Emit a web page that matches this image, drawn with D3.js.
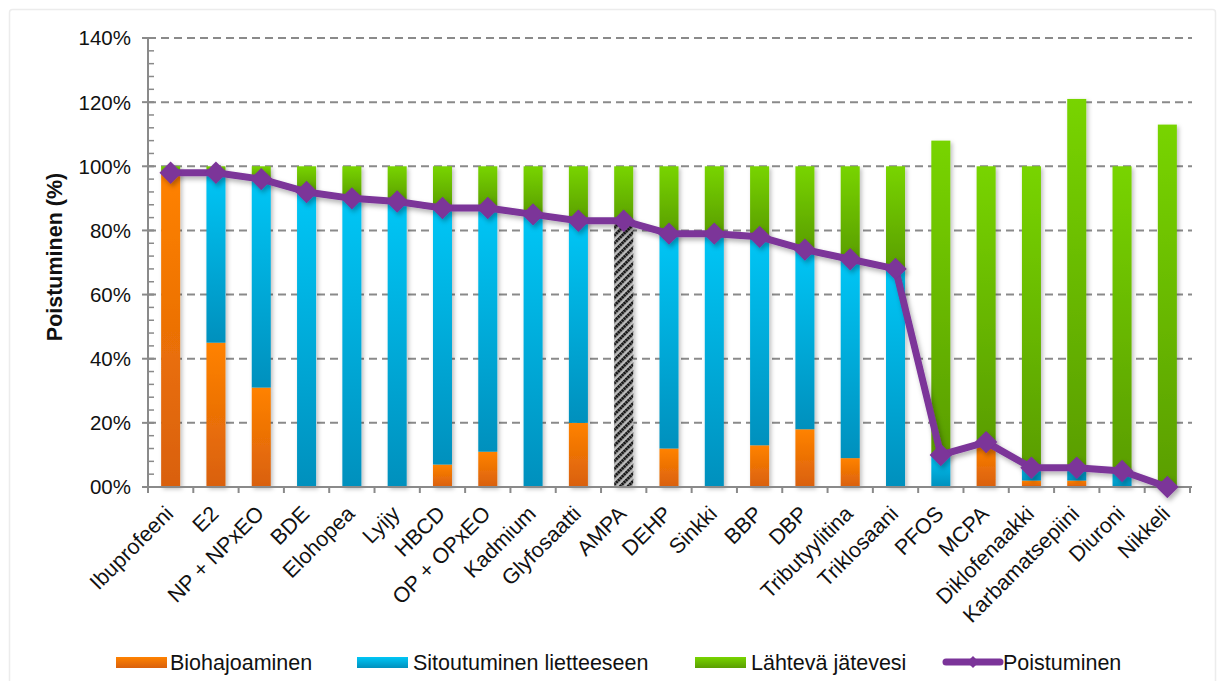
<!DOCTYPE html>
<html>
<head>
<meta charset="utf-8">
<script src="https://cdn.jsdelivr.net/npm/d3@7"></script>
<style>
  body { margin: 0; background: #fff; }
  text { font-family: "Liberation Sans", Arial, sans-serif; fill: #111; }
</style>
</head>
<body>
<svg id="chart" width="1222" height="681"></svg>
<script>
// Substances along the x axis
const categories = ["Ibuprofeeni", "E2", "NP + NPxEO", "BDE", "Elohopea", "Lyijy", "HBCD",
  "OP + OPxEO", "Kadmium", "Glyfosaatti", "AMPA", "DEHP", "Sinkki", "BBP", "DBP",
  "Tributyylitina", "Triklosaani", "PFOS", "MCPA", "Diklofenaakki", "Karbamatsepiini",
  "Diuroni", "Nikkeli"];

// Stacked shares (%)
const biohajoaminen    = [98, 45, 31, 0, 0, 0, 7, 11, 0, 20, 0, 12, 0, 13, 18, 9, 0, 0, 14, 2, 2, 0, 0];
const sitoutuminen     = [0, 53, 65, 92, 90, 89, 80, 76, 85, 63, 0, 67, 79, 65, 56, 62, 68, 10, 0, 4, 4, 5, 0];
const erittelematon    = [0, 0, 0, 0, 0, 0, 0, 0, 0, 0, 82, 0, 0, 0, 0, 0, 0, 0, 0, 0, 0, 0, 0];
const lahtevaJatevesi  = [2, 2, 4, 8, 10, 11, 13, 13, 15, 17, 18, 21, 21, 22, 26, 29, 32, 98, 86, 94, 115, 95, 113];

// Total removal (%)
const poistuminen = [98, 98, 96, 92, 90, 89, 87, 87, 85, 83, 83, 79, 79, 78, 74, 71, 68, 10, 14, 6, 6, 5, 0];

// Axis ticks
const yTicks = [0, 20, 40, 60, 80, 100, 120, 140];
const yTickLabels = ["00%", "20%", "40%", "60%", "80%", "100%", "120%", "140%"];

const seriesNames = ["Biohajoaminen", "Sitoutuminen lietteeseen", "Lähtevä jätevesi", "Poistuminen"];

const svg = d3.select("#chart");
const M = { left: 148, right: 1190, top: 38, bottom: 487 };

// faint outer frame
svg.append("rect").attr("x", 9.5).attr("y", 9.5).attr("width", 1206).attr("height", 720)
  .attr("fill", "none").attr("stroke", "#ececec").attr("stroke-width", 1.5).attr("rx", 3);

const defs = svg.append("defs");
function grad(id, top, bottom) {
  const g = defs.append("linearGradient").attr("id", id)
    .attr("x1", 0).attr("y1", 0).attr("x2", 0).attr("y2", 1);
  g.append("stop").attr("offset", "0%").attr("stop-color", top);
  g.append("stop").attr("offset", "100%").attr("stop-color", bottom);
}
grad("gOrange", "#ff8200", "#d9600c");
grad("gBlue", "#00c6f6", "#0090bd");
grad("gGreen", "#78d400", "#5a9e02");

const hatch = defs.append("pattern").attr("id", "hatch").attr("patternUnits", "userSpaceOnUse")
  .attr("width", 5.5).attr("height", 5.5).attr("patternTransform", "rotate(45)");
hatch.append("rect").attr("width", 5.5).attr("height", 5.5).attr("fill", "#bdbdbd");
hatch.append("line").attr("x1", 1.5).attr("y1", 0).attr("x2", 1.5).attr("y2", 5.5)
  .attr("stroke", "#151515").attr("stroke-width", 3).attr("stroke-dasharray", "2.2 0.6");

const shadow = defs.append("filter").attr("id", "shadow")
  .attr("x", "-30%").attr("y", "-10%").attr("width", "160%").attr("height", "120%");
shadow.append("feDropShadow").attr("dx", 2).attr("dy", 2).attr("stdDeviation", 2)
  .attr("flood-color", "#000").attr("flood-opacity", 0.25);

const lineShadow = defs.append("filter").attr("id", "lineShadow")
  .attr("x", "-10%").attr("y", "-10%").attr("width", "120%").attr("height", "130%");
lineShadow.append("feDropShadow").attr("dx", 2).attr("dy", 3).attr("stdDeviation", 2.5)
  .attr("flood-color", "#000").attr("flood-opacity", 0.3);

const x = d3.scaleBand().domain(categories).range([M.left, M.right]).padding(0);
const y = d3.scaleLinear().domain([0, 140]).range([M.bottom, M.top]);
const barW = x.bandwidth() * 0.42;

// gridlines
svg.append("g").selectAll("line").data(yTicks.filter(d => d > 0)).join("line")
  .attr("x1", M.left).attr("x2", M.right + 2)
  .attr("y1", d => y(d)).attr("y2", d => y(d))
  .attr("stroke", "#8a8a8a").attr("stroke-width", 2).attr("stroke-dasharray", "8 5");

// stacked bars
const table = categories.map((c, i) => ({
  cat: c, bio: biohajoaminen[i], sit: sitoutuminen[i], hat: erittelematon[i], out: lahtevaJatevesi[i]
}));
const keys = ["bio", "sit", "hat", "out"];
const fills = { bio: "url(#gOrange)", sit: "url(#gBlue)", hat: "url(#hatch)", out: "url(#gGreen)" };
const stacked = d3.stack().keys(keys)(table);

const barsG = svg.append("g").attr("filter", "url(#shadow)");
stacked.forEach(layer => {
  barsG.append("g").selectAll("rect").data(layer.filter(d => d[1] - d[0] > 0)).join("rect")
    .attr("x", d => x(d.data.cat) + (x.bandwidth() - barW) / 2)
    .attr("width", barW)
    .attr("y", d => y(d[1]))
    .attr("height", d => y(d[0]) - y(d[1]))
    .attr("fill", fills[layer.key]);
});

// y axis with minor ticks
const yAxis = svg.append("g").attr("transform", `translate(${M.left},0)`);
yAxis.append("line").attr("x1", 0).attr("x2", 0).attr("y1", y(0)).attr("y2", y(140))
  .attr("stroke", "#8a8a8a").attr("stroke-width", 2);
yAxis.selectAll("line.minor").data(d3.range(0, 141, 4).filter(v => v % 20 !== 0)).join("line")
  .attr("class", "minor").attr("x1", 0).attr("x2", 6)
  .attr("y1", d => y(d)).attr("y2", d => y(d)).attr("stroke", "#8a8a8a").attr("stroke-width", 1.5);
yAxis.selectAll("line.major").data(yTicks).join("line")
  .attr("class", "major").attr("x1", -6).attr("x2", 6)
  .attr("y1", d => y(d)).attr("y2", d => y(d)).attr("stroke", "#8a8a8a").attr("stroke-width", 2);
yAxis.selectAll("text").data(yTicks).join("text")
  .attr("x", -17).attr("y", d => y(d)).attr("dy", "0.36em")
  .attr("text-anchor", "end").attr("font-size", 20.5)
  .text((d, i) => yTickLabels[i]);

// x axis
const xAxis = svg.append("g");
xAxis.append("line").attr("x1", M.left).attr("x2", M.right + 2).attr("y1", y(0)).attr("y2", y(0))
  .attr("stroke", "#8a8a8a").attr("stroke-width", 2);
xAxis.selectAll("line.tick").data(d3.range(categories.length + 1)).join("line")
  .attr("class", "tick")
  .attr("x1", i => M.left + i * x.step()).attr("x2", i => M.left + i * x.step())
  .attr("y1", y(0)).attr("y2", y(0) + 6).attr("stroke", "#8a8a8a").attr("stroke-width", 2);
xAxis.selectAll("text").data(categories).join("text")
  .attr("transform", d => `translate(${x(d) + x.bandwidth() / 2 + 4},515) rotate(-45)`)
  .attr("text-anchor", "end").attr("font-size", 21.5)
  .text(d => d);

// y axis title
svg.append("text")
  .attr("transform", `translate(62,257) rotate(-90)`)
  .attr("text-anchor", "middle").attr("font-size", 21.5).attr("font-weight", "bold")
  .text("Poistuminen (%)");

// removal line with diamond markers
const lineG = svg.append("g").attr("filter", "url(#lineShadow)");
const line = d3.line().x((d, i) => x(categories[i]) + x.bandwidth() / 2).y(d => y(d));
lineG.append("path").datum(poistuminen).attr("d", line)
  .attr("fill", "none").attr("stroke", "#7b3499").attr("stroke-width", 7).attr("stroke-linejoin", "round");
const diamond = d3.symbol().type(d3.symbolDiamond2).size(320);
lineG.selectAll("path.mk").data(poistuminen).join("path")
  .attr("class", "mk")
  .attr("transform", (d, i) => `translate(${x(categories[i]) + x.bandwidth() / 2},${y(d)})`)
  .attr("d", diamond).attr("fill", "#7b3499");

// legend
const legendItems = [
  { name: seriesNames[0], fill: "url(#gOrange)", sx: 116, tx: 170 },
  { name: seriesNames[1], fill: "url(#gBlue)", sx: 357, tx: 413 },
  { name: seriesNames[2], fill: "url(#gGreen)", sx: 695, tx: 751 },
  { name: seriesNames[3], fill: null, sx: 946, tx: 1003 }
];
const lg = svg.append("g");
legendItems.forEach(it => {
  if (it.fill) {
    lg.append("rect").attr("x", it.sx).attr("y", 657).attr("width", 51).attr("height", 11)
      .attr("fill", it.fill);
  } else {
    lg.append("line").attr("x1", it.sx).attr("x2", it.sx + 54).attr("y1", 662).attr("y2", 662)
      .attr("stroke", "#7b3499").attr("stroke-width", 7).attr("stroke-linecap", "round");
    lg.append("path").attr("transform", `translate(${it.sx + 27},662)`)
      .attr("d", d3.symbol().type(d3.symbolDiamond2).size(90)).attr("fill", "#7b3499");
  }
  lg.append("text").attr("x", it.tx).attr("y", 670).attr("font-size", 21.5).text(it.name);
});
</script>
</body>
</html>
